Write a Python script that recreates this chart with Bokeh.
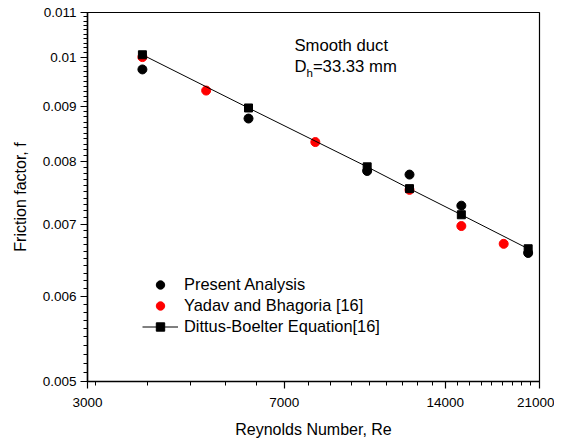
from bokeh.plotting import figure
from bokeh.models import (Range1d, FixedTicker, CustomJSTickFormatter, Label,
                          Legend, LegendItem)
from bokeh.embed import file_html
from bokeh.resources import INLINE

# ---- data ----
re_present = [3800, 6000, 10000, 12000, 15000, 20000]
f_present = [0.00974, 0.00877, 0.00784, 0.00778, 0.00728, 0.00658]

re_yadav = [3800, 5000, 8000, 12000, 15000, 18000]
f_yadav = [0.01000, 0.00931, 0.00834, 0.00753, 0.00697, 0.00671]

re_db = [3800, 6000, 10000, 12000, 15000, 20000]
f_db = [0.01005, 0.00897, 0.00791, 0.00755, 0.00714, 0.00664]

x_ticks = [3000, 7000, 14000, 21000]
y_ticks = [0.005, 0.006, 0.007, 0.008, 0.009, 0.010, 0.011]

FONT = "Liberation Sans"

p = figure(width=554, height=440, x_axis_type="log", y_axis_type="log",
           x_range=Range1d(3000, 21000), y_range=Range1d(0.005, 0.011),
           output_backend="svg", toolbar_location=None,
           min_border_left=87, min_border_right=15, min_border_top=12,
           min_border_bottom=53)
p.background_fill_color = "white"
p.border_fill_color = "white"
p.outline_line_color = "black"
p.outline_line_width = 1.2
p.xgrid.visible = False
p.ygrid.visible = False

x_minor = [k * 7000 / 9 for k in range(4, 28)]
y_minor = [round(0.005 + k * 0.0001, 4) for k in range(0, 61)]
p.xaxis.ticker = FixedTicker(ticks=x_ticks, minor_ticks=x_minor)
p.yaxis.ticker = FixedTicker(ticks=y_ticks, minor_ticks=y_minor)
p.xaxis.formatter = CustomJSTickFormatter(code="return String(Math.round(tick));")
p.yaxis.formatter = CustomJSTickFormatter(
    code="return String(Math.round(tick*1000)/1000);")

for ax in (p.xaxis[0], p.yaxis[0]):
    ax.axis_line_width = 1.5
    ax.axis_line_color = "black"
    ax.major_tick_line_color = "black"
    ax.minor_tick_line_color = "black"
    ax.major_tick_line_width = 1.2
    ax.minor_tick_line_width = 1
    ax.major_tick_in = 0
    ax.major_tick_out = 7
    ax.minor_tick_in = 0
    ax.minor_tick_out = 4
    ax.major_label_text_font = FONT
    ax.major_label_text_font_size = "13.5px"
    ax.major_label_text_color = "black"
    ax.axis_label_text_font = FONT
    ax.axis_label_text_font_size = "16px"
    ax.axis_label_text_font_style = "normal"
    ax.axis_label_text_color = "black"

p.xaxis.axis_label = "Reynolds Number, Re"
p.yaxis.axis_label = "Friction factor, f"
p.xaxis.major_label_standoff = 9
p.yaxis.major_label_standoff = 4
p.xaxis.axis_label_standoff = 11
p.yaxis.axis_label_standoff = 11

r_yadav = p.scatter(re_yadav, f_yadav, marker="circle", size=9,
                    fill_color="red", line_color="red")
r_present = p.scatter(re_present, f_present, marker="circle", size=9,
                      fill_color="black", line_color="black")
r_line = p.line(re_db, f_db, line_color="black", line_width=1)
r_sq = p.scatter(re_db, f_db, marker="square", size=8,
                 fill_color="black", line_color="black")

legend = Legend(items=[
    LegendItem(label="Present Analysis", renderers=[r_present]),
    LegendItem(label="Yadav and Bhagoria [16]", renderers=[r_yadav]),
    LegendItem(label="Dittus-Boelter Equation[16]", renderers=[r_line, r_sq]),
], location=(55, 44), glyph_width=36, glyph_height=21, label_height=21,
    label_standoff=6, spacing=0, padding=0, margin=0,
    border_line_color=None, background_fill_alpha=0,
    label_text_font=FONT, label_text_font_size="16.4px",
    label_text_color="black")
p.add_layout(legend, "center")

p.add_layout(Label(x=7310, y=0.01025, text="Smooth duct",
                   text_font=FONT, text_font_size="16.7px",
                   text_color="black", text_baseline="alphabetic"))
p.add_layout(Label(x=7310, y=0.00981, text="D",
                   text_font=FONT, text_font_size="16.7px",
                   text_color="black", text_baseline="alphabetic"))
p.add_layout(Label(x=7310, y=0.00981, x_offset=12, y_offset=-7, text="h",
                   text_font=FONT, text_font_size="11.5px",
                   text_color="black", text_baseline="alphabetic"))
p.add_layout(Label(x=7310, y=0.00981, x_offset=18.5, text="=33.33 mm",
                   text_font=FONT, text_font_size="16.7px",
                   text_color="black", text_baseline="alphabetic"))

open("out.html", "w").write(file_html(p, INLINE))
